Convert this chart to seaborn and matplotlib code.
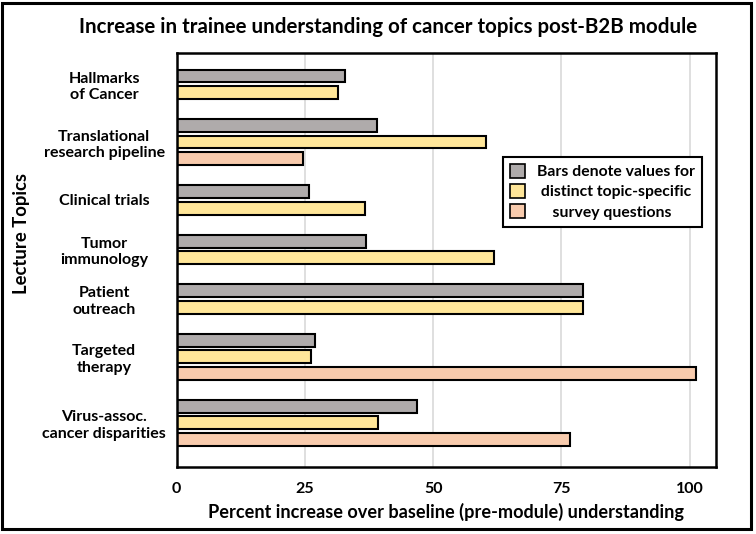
import numpy as np
import pandas as pd
import matplotlib.pyplot as plt
import seaborn as sns
from matplotlib.patches import Patch, Rectangle

# data
topics = ["Hallmarks\nof Cancer", "Translational\nresearch pipeline", "Clinical trials",
          "Tumor\nimmunology", "Patient\noutreach", "Targeted\ntherapy",
          "Virus-assoc.\ncancer disparities"]
q1 = [32.8, 39.0, 25.9, 37.0, 79.1, 26.9, 46.8]
q2 = [31.5, 60.2, 36.7, 61.9, 79.1, 26.2, 39.3]
q3 = [None, 24.6, None, None, None, 101.3, 76.6]
series = ["q1", "q2", "q3"]
colors = ["#AFABAB", "#FFE699", "#F8CBAD"]
legend_labels = ["Bars denote values for", " distinct topic-specific", "    survey questions"]

# one row per bar, one empty row between topics
rows = []
centers = []
r = 0
for i, t in enumerate(topics):
    start = r
    for s, vals in zip(series, [q1, q2, q3]):
        if vals[i] is not None:
            rows.append({"topic": t, "series": s, "value": vals[i], "row": r})
            r += 1
    centers.append((start + r - 1) / 2)
    r += 1
df = pd.DataFrame(rows)
nrows = r - 1

sns.set_style("white")
plt.rcParams['font.family'] = ['Lato', 'DejaVu Sans']
plt.rcParams['text.color'] = 'black'
plt.rcParams['xtick.color'] = 'black'
plt.rcParams['ytick.color'] = 'black'
plt.rcParams['axes.labelcolor'] = 'black'

fig = plt.figure(figsize=(7.56, 5.34), dpi=100)
ax = fig.add_axes([176.5 / 756, 1 - 467 / 534, 539.5 / 756, 414 / 534])

sns.barplot(data=df, x="value", y="row", hue="series", orient="y", native_scale=True,
            dodge=False, width=0.78, palette=dict(zip(series, colors)), saturation=1,
            edgecolor="black", linewidth=1.5, legend=False, ax=ax)

ax.set_xlim(0, 105.1)
ax.set_ylim(nrows - 1 + 1.67, -1.39)
ax.set_xticks([0, 25, 50, 75, 100])
ax.set_yticks(centers)
ax.set_yticklabels(topics)
ax.xaxis.grid(True, color="#D9D9D9", linewidth=1.2)
ax.yaxis.grid(False)
ax.set_axisbelow(True)
for sp in ax.spines.values():
    sp.set_visible(True)
    sp.set_color("black")
    sp.set_linewidth(1.8)

ax.tick_params(axis="both", length=0)
ax.tick_params(axis="y", pad=52, labelsize=11.5)
ax.tick_params(axis="x", pad=11, labelsize=11.5)
for lab in ax.get_yticklabels():
    lab.set_horizontalalignment("center")
    lab.set_fontweight("bold")
for lab in ax.get_xticklabels():
    lab.set_fontweight("bold")

ax.set_xlabel("Percent increase over baseline (pre-module) understanding",
              fontsize=13.1, fontweight="bold", labelpad=5)
ax.set_ylabel("Lecture Topics", fontsize=13.3, fontweight="bold")
ax.yaxis.set_label_coords(-0.272, 0.565)

fig.text(388 / 756, 1 - 27 / 534, "Increase in trainee understanding of cancer topics post-B2B module",
         ha="center", va="center", fontsize=14.8, fontweight="bold")

handles = [Patch(facecolor=c, edgecolor="black", linewidth=1.2) for c in colors]
leg = ax.legend(handles, legend_labels, loc="upper left", bbox_to_anchor=(0.605, 0.749),
                borderaxespad=0, frameon=True, fancybox=False, framealpha=1,
                edgecolor="black", handlelength=0.95, handleheight=1.0,
                handletextpad=0.75, labelspacing=0.3, borderpad=0.45,
                prop={"weight": "bold", "size": 11.3})
leg.get_frame().set_linewidth(1.5)

# border round the whole figure
fig.patches.append(Rectangle((0.003, 0.01), 0.99, 0.984, transform=fig.transFigure,
                             fill=False, edgecolor="black", linewidth=2.2))

fig.savefig("out.png", dpi=100)
